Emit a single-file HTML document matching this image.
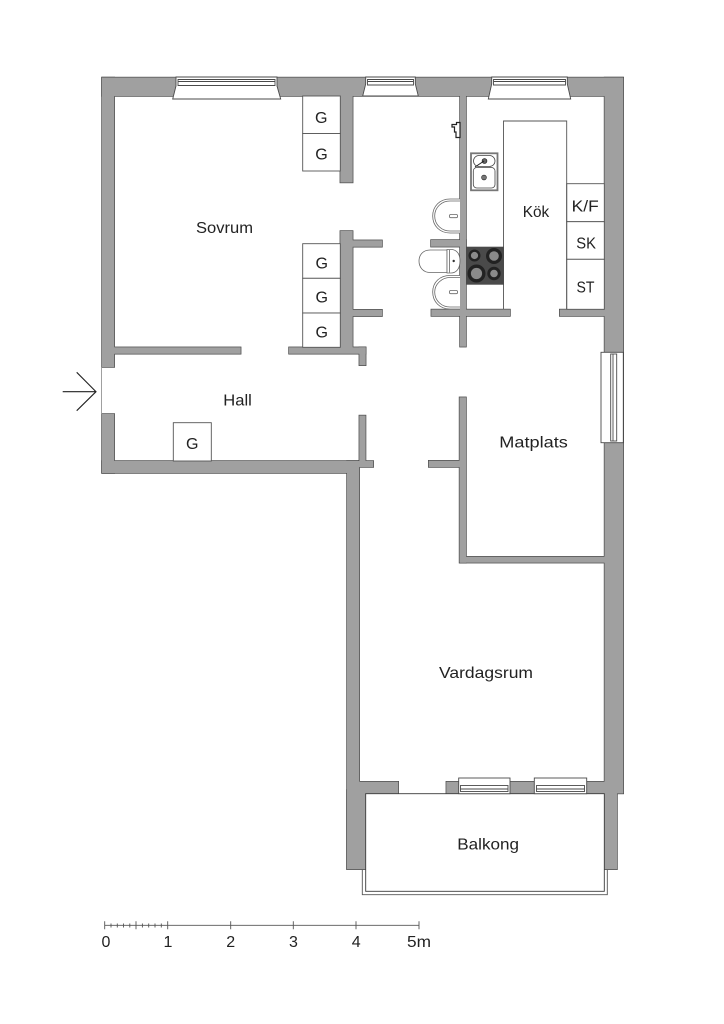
<!DOCTYPE html>
<html lang="sv">
<head>
<meta charset="utf-8">
<title>Planritning</title>
<style>
html,body{margin:0;padding:0;background:#fff;width:724px;height:1024px;overflow:hidden}
svg{display:block}
text{font-family:"Liberation Sans",sans-serif;font-size:16px;fill:#222}
</style>
</head>
<body>
<svg width="724" height="1024" viewBox="0 0 724 1024" xmlns="http://www.w3.org/2000/svg">
<defs>
<g id="w">
<rect x="102" y="77.5" width="521" height="18.5"/>
<rect x="102" y="77.5" width="12.3" height="289.5"/>
<rect x="102" y="414" width="12.3" height="59"/>
<rect x="102" y="461" width="257" height="12"/>
<rect x="359" y="461" width="14.3" height="6"/>
<rect x="347" y="461" width="12.3" height="408"/>
<rect x="359.3" y="415.5" width="6.3" height="46"/>
<rect x="340.3" y="96" width="12.4" height="86.5"/>
<rect x="340.3" y="231" width="12.4" height="122.5"/>
<rect x="352" y="240.3" width="30" height="6.5"/>
<rect x="352" y="309.7" width="30" height="6.5"/>
<rect x="289" y="347.3" width="76.7" height="6.5"/>
<rect x="359.3" y="347.3" width="6.4" height="18"/>
<rect x="114" y="347.3" width="126.7" height="6.5"/>
<rect x="460" y="96" width="6" height="250.7"/>
<rect x="431" y="240" width="35" height="6.7"/>
<rect x="431.3" y="309.5" width="78.7" height="6.5"/>
<rect x="559.7" y="309.5" width="46" height="6.5"/>
<rect x="604.5" y="77.5" width="18.8" height="716"/>
<rect x="459.5" y="397.3" width="6.5" height="165.4"/>
<rect x="428.7" y="460.7" width="36" height="6.3"/>
<rect x="460" y="556.7" width="145" height="6"/>
<rect x="359" y="781.7" width="39.3" height="12"/>
<rect x="446.3" y="781.7" width="159" height="12"/>
<rect x="604.3" y="790" width="12.7" height="79.3"/>
<rect x="347" y="790" width="18.7" height="79.3"/>
</g>
</defs>

<!-- walls -->
<use href="#w" fill="#a0a0a0" stroke="#4a4a4a" stroke-width="1.4"/>
<use href="#w" fill="#a0a0a0"/>

<!-- closets -->
<g fill="#fff" stroke="#555" stroke-width="0.9">
<rect x="302.7" y="96" width="37.6" height="37.5"/>
<rect x="302.7" y="133.5" width="37.6" height="37.5"/>
<rect x="302.7" y="243.7" width="37.6" height="34.6"/>
<rect x="302.7" y="278.3" width="37.6" height="34.7"/>
<rect x="302.7" y="313" width="37.6" height="34.3"/>
<rect x="173.3" y="422.7" width="38" height="38.3"/>
<!-- kitchen cabinets -->
<rect x="566.7" y="183.7" width="37.6" height="38"/>
<rect x="566.7" y="221.7" width="37.6" height="37.6"/>
<rect x="566.7" y="259.3" width="37.6" height="50"/>
</g>

<!-- island outline, open at the bottom -->
<path d="M503.5 309.3V121H566.7V309.3" fill="none" stroke="#555" stroke-width="0.9"/>

<!-- top windows -->
<g fill="#fff" stroke="#4a4a4a" stroke-width="0.9">
<path d="M176 77H277V86L280.7 99H172.7L176 86Z"/>
<path d="M365.7 77H415.3V84L418.3 96H362.7L365.7 84Z"/>
<path d="M491.7 77H567.3V84L570.7 99H488.3L491.7 84Z"/>
<path d="M178 79.5H275V85.5H178Z" fill="none"/>
<path d="M178 81.5H275" fill="none"/>
<path d="M367.5 79.5H413.5V85H367.5Z" fill="none"/>
<path d="M367.5 81.5H413.5" fill="none"/>
<path d="M493.5 79.5H565.5V85H493.5Z" fill="none"/>
<path d="M493.5 81.5H565.5" fill="none"/>
</g>

<!-- right window -->
<g fill="#fff" stroke="#4a4a4a" stroke-width="0.9">
<rect x="601" y="352.3" width="22.3" height="90.4"/>
<rect x="610.7" y="354" width="6" height="87"/>
<line x1="613" y1="354" x2="613" y2="441"/>
</g>

<!-- balcony -->
<path d="M362.3 869.3V894.7H607.3V869.3" fill="none" stroke="#555" stroke-width="0.9"/>
<rect x="365.7" y="793.7" width="238.6" height="97.6" fill="#fff" stroke="#3a3a3a" stroke-width="0.9"/>

<!-- balcony windows -->
<g fill="#fff" stroke="#4a4a4a" stroke-width="0.9">
<rect x="458.7" y="778" width="51.3" height="15.7"/>
<rect x="534.3" y="778" width="52.4" height="15.7"/>
<rect x="460.5" y="785.5" width="47.5" height="6"/>
<line x1="460.5" y1="789" x2="508" y2="789"/>
<rect x="536.5" y="785.5" width="48" height="6"/>
<line x1="536.5" y1="789" x2="584.5" y2="789"/>
</g>

<!-- sink -->
<rect x="471" y="153.3" width="26.5" height="37" fill="#fff" stroke="#777" stroke-width="1.8"/>
<rect x="473.5" y="155.5" width="21.5" height="11" rx="5.5" fill="#fff" stroke="#444" stroke-width="0.8"/>
<rect x="473.3" y="167.5" width="21.7" height="20.5" rx="3.5" fill="#fff" stroke="#444" stroke-width="0.8"/>
<circle cx="484.5" cy="161" r="2.4" fill="#666" stroke="#222" stroke-width="0.7"/>
<circle cx="484" cy="177.5" r="2.4" fill="#777" stroke="#333" stroke-width="0.7"/>
<line x1="484" y1="161" x2="475" y2="167" stroke="#222" stroke-width="1"/>

<!-- stove -->
<rect x="466" y="246.7" width="38" height="38" fill="#4a4a4a"/>
<g fill="#222">
<circle cx="474.5" cy="255.5" r="6"/>
<circle cx="494" cy="256" r="8"/>
<circle cx="476.5" cy="273.5" r="9"/>
<circle cx="494" cy="273.5" r="6.7"/>
</g>
<g fill="#8a8a8a">
<circle cx="474.5" cy="255.5" r="3.6"/>
<circle cx="494" cy="256" r="4.8"/>
<circle cx="476.5" cy="273.5" r="5.6"/>
<circle cx="494" cy="273.5" r="3.8"/>
</g>

<!-- tap -->
<path d="M452 124.5h4.5v-2h3.5v15h-4v-5.5h-1.5v-5h-2.5Z" fill="#fff" stroke="#222" stroke-width="1.2"/>

<!-- basins -->
<g fill="#fff" stroke="#666" stroke-width="0.8">
<path d="M460 199H450C440 199 432.7 206 432.7 216C432.7 226 440 233 450 233H460"/>
<path d="M460 201H450C442 201 434.7 207 434.7 216C434.7 225 442 231 450 231H460" fill="none"/>
<rect x="449.5" y="214.5" width="8" height="3.2" rx="1.2"/>
<path d="M460 275.5H450C440 275.5 432.7 282 432.7 292C432.7 302 440 309 450 309H460"/>
<path d="M460 277.5H450C442 277.5 434.7 284 434.7 292C434.7 301 442 307 450 307H460" fill="none"/>
<rect x="449.5" y="290.5" width="8" height="3.2" rx="1.2"/>
<!-- toilet -->
<path d="M447 250H430C423 250 419 255 419 261C419 267 423 272.5 430 272.5H447Z"/>
<path d="M447 249.5H451C456 249.5 460 253 460 261C460 269 456 273 451 273H447Z"/>
<path d="M449.5 250V272.5" fill="none"/>
</g>
<circle cx="453.7" cy="261" r="1.2" fill="#333"/>

<!-- arrow -->
<path d="M62.7 391.7H96M76.7 372.3L96 391.7L76.7 410.7" fill="none" stroke="#222" stroke-width="1.1"/>
<line x1="101.6" y1="367" x2="101.6" y2="414" stroke="#888" stroke-width="0.8"/>

<!-- labels -->
<text x="196" y="233" textLength="57" lengthAdjust="spacingAndGlyphs">Sovrum</text>
<text x="223.3" y="405.5" textLength="28.5" lengthAdjust="spacingAndGlyphs">Hall</text>
<text x="522.7" y="217" textLength="26.5" lengthAdjust="spacingAndGlyphs">Kök</text>
<text x="571.7" y="211.5" textLength="27" lengthAdjust="spacingAndGlyphs">K/F</text>
<text x="576.3" y="248.3" textLength="19.7" lengthAdjust="spacingAndGlyphs">SK</text>
<text x="576.5" y="292.5" textLength="18" lengthAdjust="spacingAndGlyphs">ST</text>
<text x="499.3" y="447.3" textLength="68.5" lengthAdjust="spacingAndGlyphs">Matplats</text>
<text x="439" y="678" textLength="94" lengthAdjust="spacingAndGlyphs">Vardagsrum</text>
<text x="457.3" y="849.5" textLength="61.7" lengthAdjust="spacingAndGlyphs">Balkong</text>
<text x="315" y="122.8" textLength="12.5" lengthAdjust="spacingAndGlyphs">G</text>
<text x="315.3" y="159.3" textLength="12.5" lengthAdjust="spacingAndGlyphs">G</text>
<text x="315.5" y="268.7" textLength="12.5" lengthAdjust="spacingAndGlyphs">G</text>
<text x="315.5" y="302.5" textLength="12.5" lengthAdjust="spacingAndGlyphs">G</text>
<text x="315.5" y="337.5" textLength="12.5" lengthAdjust="spacingAndGlyphs">G</text>
<text x="186" y="449" textLength="12.5" lengthAdjust="spacingAndGlyphs">G</text>

<!-- scale -->
<g stroke="#555" stroke-width="0.9" fill="none">
<line x1="104.7" y1="925.3" x2="419" y2="925.3"/>
<path d="M104.7 921.3v8M136 921.3v8M167.7 921.3v8M230.7 921.3v8M293.3 921.3v8M356 921.3v8M419 921.3v8"/>
<path d="M111 923.5v4M117.3 923.5v4M123.5 923.5v4M129.8 923.5v4M142.4 923.5v4M148.7 923.5v4M155 923.5v4M161.3 923.5v4"/>
</g>
<g>
<text x="101.5" y="947">0</text>
<text x="163.5" y="947">1</text>
<text x="226.3" y="947">2</text>
<text x="289" y="947">3</text>
<text x="351.7" y="947">4</text>
<text x="407" y="947" textLength="24" lengthAdjust="spacingAndGlyphs">5m</text>
</g>
</svg>
</body>
</html>
